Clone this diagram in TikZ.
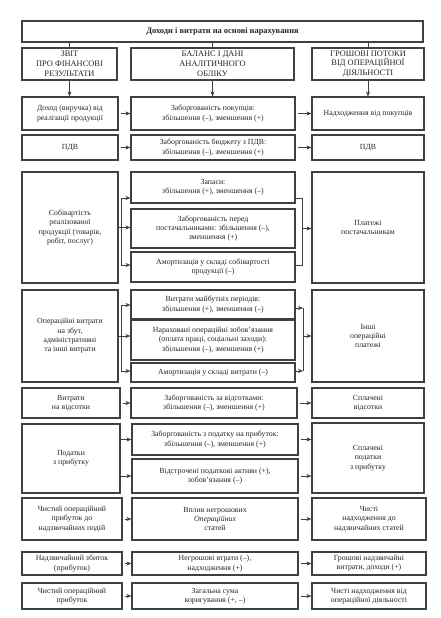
\documentclass[tikz,border=0pt]{standalone}
\usepackage{fontspec}
\setmainfont{Liberation Serif}
\usetikzlibrary{arrows.meta,calc}

\tikzset{
  boite/.style={draw=black!75, line width=1.2pt, fill=white, align=center, inner sep=1pt,
    text=black!85, font=\fontsize{7.8}{9.3}\selectfont},
  entete/.style={boite, font=\fontsize{8.4}{9.8}\selectfont},
  titre/.style={boite, font=\fontsize{8.4}{10}\selectfont\bfseries},
  fleche/.style={-{Stealth[length=5pt,width=4pt]}, black!75, line width=0.5pt},
  trait/.style={black!75, line width=0.5pt},
}

% boite : style, nom, x1, y1, x2, y2, texte
\newcommand{\boite}[7][boite]{%
  \node[#1, minimum width={(#5-#3)*1pt}, minimum height={(#6-#4)*1pt}]
    (#2) at ({(#3+#5)/2},{(#4+#6)/2}) {#7};}

\begin{document}
\begin{tikzpicture}[x=1pt, y=-1pt]
    % Fond
    \fill[white] (0,0) rectangle (440,618);
    \useasboundingbox (0,0) rectangle (440,618);

    % Titre
    \boite[titre]{tit}{22}{21}{423}{42}{Доходи і витрати на основі нарахування}

    % En-tetes
    \boite[entete]{h1}{22}{48}{117}{80}{ЗВІТ\\ПРО ФІНАНСОВІ\\РЕЗУЛЬТАТИ}
    \boite[entete]{h2}{131}{48}{294}{80}{БАЛАНС І ДАНІ\\АНАЛІТИЧНОГО\\ОБЛІКУ}
    \boite[entete]{h3}{312}{48}{424}{80}{ГРОШОВІ ПОТОКИ\\ВІД ОПЕРАЦІЙНОЇ\\ДІЯЛЬНОСТІ}

    % Ligne 1 et 2
    \boite{a1}{22}{97}{118}{130}{Доход (виручка) від\\реалізації продукції}
    \boite{b1}{131}{97}{295}{130}{Заборгованість покупців:\\збільшення (–), зменшення (+)}
    \boite{c1}{312}{97}{424}{130}{Надходження від покупців}
    \boite{a2}{22}{135}{118}{160}{ПДВ}
    \boite{b2}{131}{135}{295}{160}{Заборгованість бюджету з ПДВ:\\збільшення (–), зменшення (+)}
    \boite{c2}{312}{135}{424}{160}{ПДВ}

    % Ligne 3
    \boite{a3}{22}{172}{118}{283}{Собівартість\\реалізованої\\продукції (товарів,\\робіт, послуг)}
    \boite{b3a}{131}{172}{295}{203}{Запаси:\\збільшення (+), зменшення (–)}
    \boite{b3b}{131}{209}{295}{248}{Заборгованість перед\\постачальниками: збільшення (–),\\зменшення (+)}
    \boite{b3c}{131}{252}{295}{282}{Амортизація у складі собівартості\\продукції (–)}
    \boite{c3}{312}{172}{424}{283}{Платежі\\постачальникам}

    % Ligne 4
    \boite{a4}{22}{290}{118}{382}{Операційні витрати\\на збут,\\адміністративні\\та інші витрати}
    \boite{b4a}{131}{290}{295}{319}{Витрати майбутніх періодів:\\збільшення (+), зменшення (–)}
    \boite{b4b}{131}{320}{295}{360}{Нараховані операційні зобов’язання\\(оплата праці, соціальні заходи):\\збільшення (–), зменшення (+)}
    \boite{b4c}{131}{363}{295}{382}{Амортизація у складі витрати (–)}
    \boite{c4}{312}{290}{424}{382}{Інші\\операційні\\платежі}

    % Ligne 5 et 6
    \boite{a5}{22}{388}{120}{418}{Витрати\\на відсотки}
    \boite{b5}{131}{388}{297}{418}{Заборгованість за відсотками:\\збільшення (–), зменшення (+)}
    \boite{c5}{312}{388}{424}{418}{Сплачені\\відсотки}
    \boite{a6}{22}{424}{120}{493}{Податки\\з прибутку}
    \boite{b6a}{132}{424}{298}{455}{Заборгованість з податку на прибуток:\\збільшення (–), зменшення (+)}
    \boite{b6b}{132}{459}{298}{493}{Відстрочені податкові активи (+),\\зобов’язання (–)}
    \boite{c6}{312}{423}{424}{493}{Сплачені\\податки\\з прибутку}

    % Lignes 7 a 9
    \boite{a7}{22}{498}{122}{540}{Чистий операційний\\прибуток до\\надзвичайних подій}
    \boite{b7}{132}{498}{298}{540}{Вплив негрошових\\\textit{Операційних}\\статей}
    \boite{c7}{312}{498}{426}{540}{Чисті\\надходження до\\надзвичайних статей}
    \boite{a8}{22}{552}{122}{575}{Надзвичайний збиток\\(прибуток)}
    \boite{b8}{132}{552}{298}{575}{Негрошові втрати (–),\\надходження (+)}
    \boite{c8}{312}{552}{426}{575}{Грошові надзвичайні\\витрати, доходи (+)}
    \boite{a9}{22}{583}{122}{609}{Чистий операційний\\прибуток}
    \boite{b9}{132}{583}{298}{609}{Загальна сума\\коригування (+, –)}
    \boite{c9}{312}{583}{426}{609}{Чисті надходження від\\операційної діяльності}

    % Liaisons titre / en-tetes
    \foreach \h/\r in {h1/a1, h2/b1, h3/c1} {
        \draw[trait] (tit.south -| \h.north) -- (\h.north);
        \draw[fleche] (\h.south) -- (\h.south |- \r.north);
    }

    % Fleches simples
    \foreach \g/\d in {a1/b1, b1/c1, a2/b2, b2/c2, a5/b5, b5/c5, a7/b7, b7/c7, a8/b8, b8/c8, a9/b9, b9/c9}
        \draw[fleche, shorten <=2pt] (\g.east) -- (\g.east -| \d.west);
    \foreach \m in {b6a, b6b} {
        \draw[fleche] (\m.west -| a6.east) -- (\m.west);
        \draw[fleche, shorten <=2pt] (\m.east) -- (\m.east -| c6.west);
    }

    % Ligne 3 : embranchements
    \coordinate (g3h) at (121,198);
    \coordinate (g3b) at (121,265);
    \draw[trait] (a3.east) -- (a3.east -| g3h);
    \draw[trait] (g3h) -- (g3b);
    \draw[fleche] (g3h) -- (g3h -| b3a.west);
    \draw[fleche] (a3.east -| g3h) -- (a3.east -| b3b.west);
    \draw[fleche] (g3b) -- (g3b -| b3c.west);
    \coordinate (d3h) at (302,198);
    \coordinate (d3b) at (302,265);
    \draw[trait] (d3h -| b3a.east) -- (d3h) -- (d3b) -- (d3b -| b3c.east);
    \draw[fleche] (b3b.east -| d3h) -- (b3b.east -| c3.west);

    % Ligne 4 : embranchements
    \coordinate (g4h) at (121,305);
    \coordinate (g4b) at (121,371);
    \draw[trait] (a4.east) -- (a4.east -| g4h);
    \draw[trait] (g4h) -- (g4b);
    \draw[fleche] (g4h) -- (g4h -| b4a.west);
    \draw[fleche] (a4.east -| g4h) -- (a4.east -| b4b.west);
    \draw[fleche] (g4b) -- (g4b -| b4c.west);
    \coordinate (d4h) at (303,308);
    \coordinate (d4b) at (303,371);
    \draw[fleche] (d4h -| b4a.east) -- (d4h);
    \draw[fleche] (d4b -| b4c.east) -- (d4b);
    \draw[trait] (d4h) -- (d4b);
    \draw[fleche] (c4.west -| d4h) -- (c4.west);
\end{tikzpicture}
\end{document}
